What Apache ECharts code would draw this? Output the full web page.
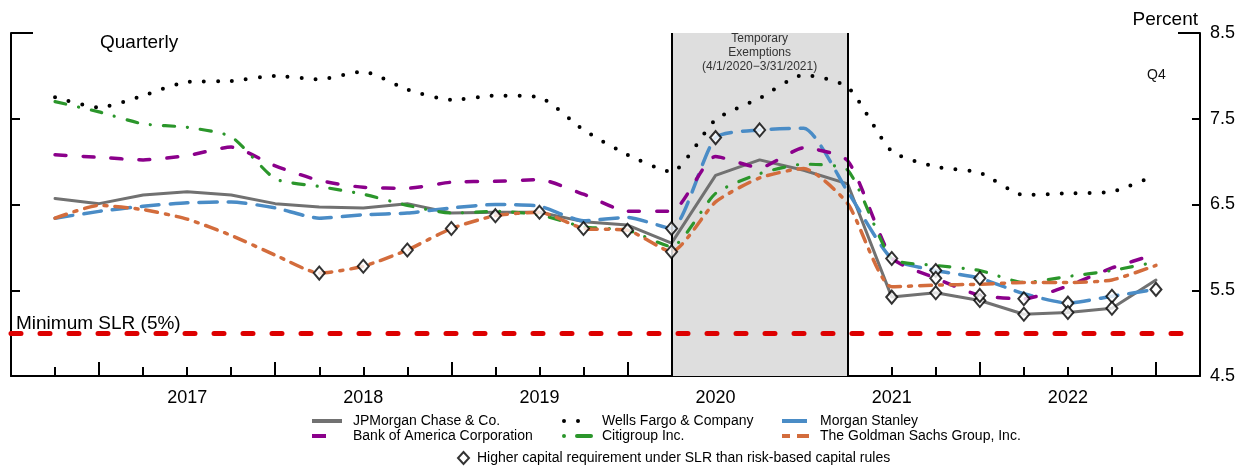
<!DOCTYPE html>
<html><head><meta charset="utf-8">
<script src="https://cdn.jsdelivr.net/npm/echarts@6/dist/echarts.min.js"></script>
<style>html,body{margin:0;padding:0;background:#fff}#c{width:1253px;height:466px}</style>
</head><body><div id="c"></div>
<script>
// ---------- DATA ----------
const quarters = ['2016Q3','2016Q4',
  '2017Q1','2017Q2','2017Q3','2017Q4',
  '2018Q1','2018Q2','2018Q3','2018Q4',
  '2019Q1','2019Q2','2019Q3','2019Q4',
  '2020Q1','2020Q2','2020Q3','2020Q4',
  '2021Q1','2021Q2','2021Q3','2021Q4',
  '2022Q1','2022Q2','2022Q3','2022Q4'];
const yearLabels = ['2017','2018','2019','2020','2021','2022'];
const yTickLabels = [4.5, 5.5, 6.5, 7.5, 8.5];

const jpm   = [6.57,6.51,6.61,6.65,6.61,6.51,6.47,6.46,6.51,6.40,6.41,6.41,6.30,6.26,6.05,6.84,7.02,6.90,6.74,5.42,5.47,5.38,5.22,5.24,5.29,5.62];
const wells = [7.75,7.63,7.77,7.93,7.94,8.00,7.96,8.05,7.84,7.72,7.77,7.75,7.37,7.08,6.88,7.49,7.74,8.01,7.87,7.12,6.94,6.87,6.61,6.63,6.65,6.84];
const ms    = [6.34,6.42,6.48,6.52,6.53,6.46,6.34,6.38,6.40,6.46,6.50,6.48,6.31,6.35,6.22,7.28,7.37,7.39,6.65,5.87,5.73,5.64,5.46,5.35,5.43,5.51];
const bofa  = [7.08,7.05,7.02,7.07,7.17,6.95,6.78,6.70,6.69,6.76,6.77,6.79,6.62,6.42,6.42,7.06,6.93,7.16,7.01,5.88,5.64,5.44,5.40,5.55,5.76,5.92];
const citi  = [7.70,7.58,7.44,7.40,7.29,6.80,6.71,6.62,6.49,6.40,6.42,6.38,6.24,6.20,6.01,6.63,6.86,6.97,6.90,5.87,5.79,5.73,5.59,5.66,5.73,5.83];
const gs    = [6.34,6.49,6.44,6.33,6.14,5.91,5.70,5.78,5.97,6.22,6.37,6.41,6.22,6.20,5.95,6.53,6.81,6.92,6.51,5.54,5.56,5.57,5.59,5.59,5.62,5.79];

// quarters where SLR requirement > risk-based requirement (diamonds)
const diamondsGS   = ['2018Q1','2018Q2','2018Q3','2018Q4','2019Q1','2019Q2','2019Q3','2019Q4','2020Q1'];
const diamondsMS   = ['2020Q1','2020Q2','2020Q3','2021Q2','2021Q3','2021Q4','2022Q2','2022Q3','2022Q4'];
const diamondsJPM  = ['2021Q2','2021Q3','2021Q4','2022Q1','2022Q2','2022Q3'];
const diamondsBofA = ['2021Q3','2021Q4','2022Q1'];

const MIN_SLR = 5;
const exemptionStart = '2020Q1', exemptionEnd = '2021Q1';

// ---------- BUILD ----------
const FONT = "'Liberation Sans', Arial, sans-serif";
const idx = q => quarters.indexOf(q);
const pts = arr => arr.map((v, i) => [i, v]);
const labelPos = yearLabels.map(y => idx(y + 'Q2'));
const labelMap = {}; labelPos.forEach((p, k) => labelMap[p] = yearLabels[k]);
const minorTicks = quarters.map((q, i) => i);
const majorTicks = quarters.map((q, i) => i).filter(i => quarters[i].endsWith('Q4'));

const names = {
  jpm: 'JPMorgan Chase & Co.', wells: 'Wells Fargo & Company', ms: 'Morgan Stanley',
  bofa: 'Bank of America Corporation', citi: 'Citigroup Inc.', gs: 'The Goldman Sachs Group, Inc.'
};
const diamondName = 'Higher capital requirement under SLR than risk-based capital rules';

function line(name, data, color, type, width, smooth) {
  return {
    name, type: 'line', data: pts(data), yAxisIndex: 0, xAxisIndex: 0,
    symbol: 'none', showSymbol: false, smooth: smooth, z: 3,
    lineStyle: { color, width, type, cap: 'round' }, itemStyle: { color },
    emphasis: { disabled: true }, silent: true
  };
}

const diamondData = [];
[[gs, diamondsGS], [ms, diamondsMS], [jpm, diamondsJPM], [bofa, diamondsBofA]].forEach(([arr, qs]) => {
  qs.forEach(q => diamondData.push([idx(q), arr[idx(q)]]));
});

const axisStyle = { color: '#000', width: 2 };
const legendText = { fontSize: 14, color: '#000', fontFamily: FONT, padding: [0, 0, 0, 6], lineHeight: 14 };
const hideSym = { color: 'rgba(0,0,0,0)', borderWidth: 0, opacity: 0 };
function legend(left, top, items) {
  return {
    orient: 'vertical', left, top, padding: 0, itemWidth: 30, itemHeight: 8, itemGap: 1,
    selectedMode: false, textStyle: legendText,
    data: items.map(it => Object.assign({ itemStyle: hideSym }, it))
  };
}

const option = {
  animation: false,
  backgroundColor: '#fff',
  grid: { left: 11, right: 53, top: 33, bottom: 90 },
  xAxis: [
    { type: 'value', min: -1, max: 26, interval: 1, position: 'bottom',
      axisLine: { show: true, onZero: false, lineStyle: axisStyle },
      axisTick: { show: true, inside: true, length: 9, customValues: minorTicks, lineStyle: axisStyle },
      axisLabel: { show: true, customValues: labelPos, formatter: v => labelMap[v] || '', fontSize: 18, color: '#000', margin: 13, fontFamily: FONT },
      splitLine: { show: false } },
    { type: 'value', min: -1, max: 26, interval: 1, position: 'bottom',
      axisLine: { show: false, onZero: false },
      axisTick: { show: true, inside: true, length: 14, customValues: majorTicks, lineStyle: axisStyle },
      axisLabel: { show: false }, splitLine: { show: false } }
  ],
  yAxis: [
    { type: 'value', min: 4.5, max: 8.5, interval: 1, position: 'right',
      axisLine: { show: true, onZero: false, lineStyle: axisStyle },
      axisTick: { show: true, inside: true, length: 8, customValues: [5.5, 6.5, 7.5], lineStyle: axisStyle },
      axisLabel: { show: true, customValues: yTickLabels, formatter: v => v.toFixed(1), fontSize: 18, color: '#000', margin: 10, fontFamily: FONT },
      splitLine: { show: false } },
    { type: 'value', min: 4.5, max: 8.5, interval: 1, position: 'left',
      axisLine: { show: true, onZero: false, lineStyle: axisStyle },
      axisTick: { show: true, inside: true, length: 9, customValues: [5.5, 6.5, 7.5], lineStyle: axisStyle },
      axisLabel: { show: false }, splitLine: { show: false } },
    { type: 'value', min: 4.5, max: 8.5, interval: 1, position: 'right',
      axisLine: { show: false, onZero: false },
      axisTick: { show: true, inside: true, length: 22, customValues: [8.5], lineStyle: axisStyle },
      axisLabel: { show: false }, splitLine: { show: false } },
    { type: 'value', min: 4.5, max: 8.5, interval: 1, position: 'left',
      axisLine: { show: false, onZero: false },
      axisTick: { show: true, inside: true, length: 22, customValues: [8.5], lineStyle: axisStyle },
      axisLabel: { show: false }, splitLine: { show: false } }
  ],
  legend: [
    legend(310, 414, [
      { name: names.jpm, lineStyle: { type: 'solid', width: 4, cap: 'butt' } },
      { name: names.bofa, lineStyle: { type: [14, 60], width: 4, cap: 'butt' } }
    ]),
    legend(559, 414, [
      { name: names.wells, lineStyle: { type: [0, 14], width: 4, dashOffset: -3, cap: 'round' } },
      { name: names.citi, lineStyle: { type: [0, 13, 14, 60], width: 4, dashOffset: -3, cap: 'round' } }
    ]),
    legend(777, 414, [
      { name: names.ms, lineStyle: { type: [25, 60], width: 4, cap: 'butt' } },
      { name: names.gs, lineStyle: { type: [8, 7, 14, 60], width: 4, cap: 'butt' } }
    ]),
    { orient: 'horizontal', left: 457, top: 451, padding: 0, itemWidth: 11, itemHeight: 12, selectedMode: false,
      textStyle: { fontSize: 14, color: '#000', fontFamily: FONT, padding: [0, 0, 0, 3] },
      data: [{ name: diamondName, icon: 'diamond' }] }
  ],
  graphic: [
    { type: 'text', left: 100, top: 33, style: { text: 'Quarterly', fontSize: 19, fill: '#000', fontFamily: FONT } },
    { type: 'text', right: 55, top: 10, style: { text: 'Percent', fontSize: 19, fill: '#000', fontFamily: FONT } },
    { type: 'text', left: 1147, top: 68, style: { text: 'Q4', fontSize: 14, fill: '#111', fontFamily: FONT } },
    { type: 'text', left: 16, top: 314, style: { text: 'Minimum SLR (5%)', fontSize: 19, fill: '#000', fontFamily: FONT } }
  ],
  series: [
    { name: 'bg', type: 'line', data: [], z: 1, silent: true, symbol: 'none',
      markArea: { silent: true, itemStyle: { color: '#dedede' },
        label: { show: true, position: 'insideTop', distance: -1, color: '#333', fontSize: 12, lineHeight: 14, fontFamily: FONT,
          formatter: 'Temporary\nExemptions\n(4/1/2020\u22123/31/2021)' },
        data: [[{ xAxis: idx(exemptionStart) }, { xAxis: idx(exemptionEnd) }]] },
      markLine: { silent: true, symbol: 'none', label: { show: false },
        data: [
          { xAxis: idx(exemptionStart), lineStyle: { color: '#000', width: 2, type: 'solid' } },
          { xAxis: idx(exemptionEnd), lineStyle: { color: '#000', width: 2, type: 'solid' } },
          { yAxis: MIN_SLR, lineStyle: { color: '#dd0000', width: 5, type: [10, 19], cap: 'round' } }
        ] } },
    line(names.wells, wells, '#000000', [0, 14], 4, 0.2),
    line(names.jpm, jpm, '#717171', 'solid', 3, false),
    line(names.ms, ms, '#4a8cc6', [18, 11], 3.5, 0.2),
    line(names.bofa, bofa, '#8b008b', [11, 17], 3.5, 0.2),
    line(names.citi, citi, '#2b962b', [11, 13, 0.1, 13], 3.2, 0.2),
    line(names.gs, gs, '#d36c3c', [12, 8, 3, 8], 3.5, 0.2),
    { name: diamondName, type: 'scatter', data: diamondData, symbol: 'diamond', symbolSize: [11, 13], z: 5,
      itemStyle: { color: '#fff', borderColor: '#000', borderWidth: 2 }, silent: true }
  ]
};
const chart = echarts.init(document.getElementById('c'), null, { renderer: 'canvas' });
chart.setOption(option);
</script></body></html>
